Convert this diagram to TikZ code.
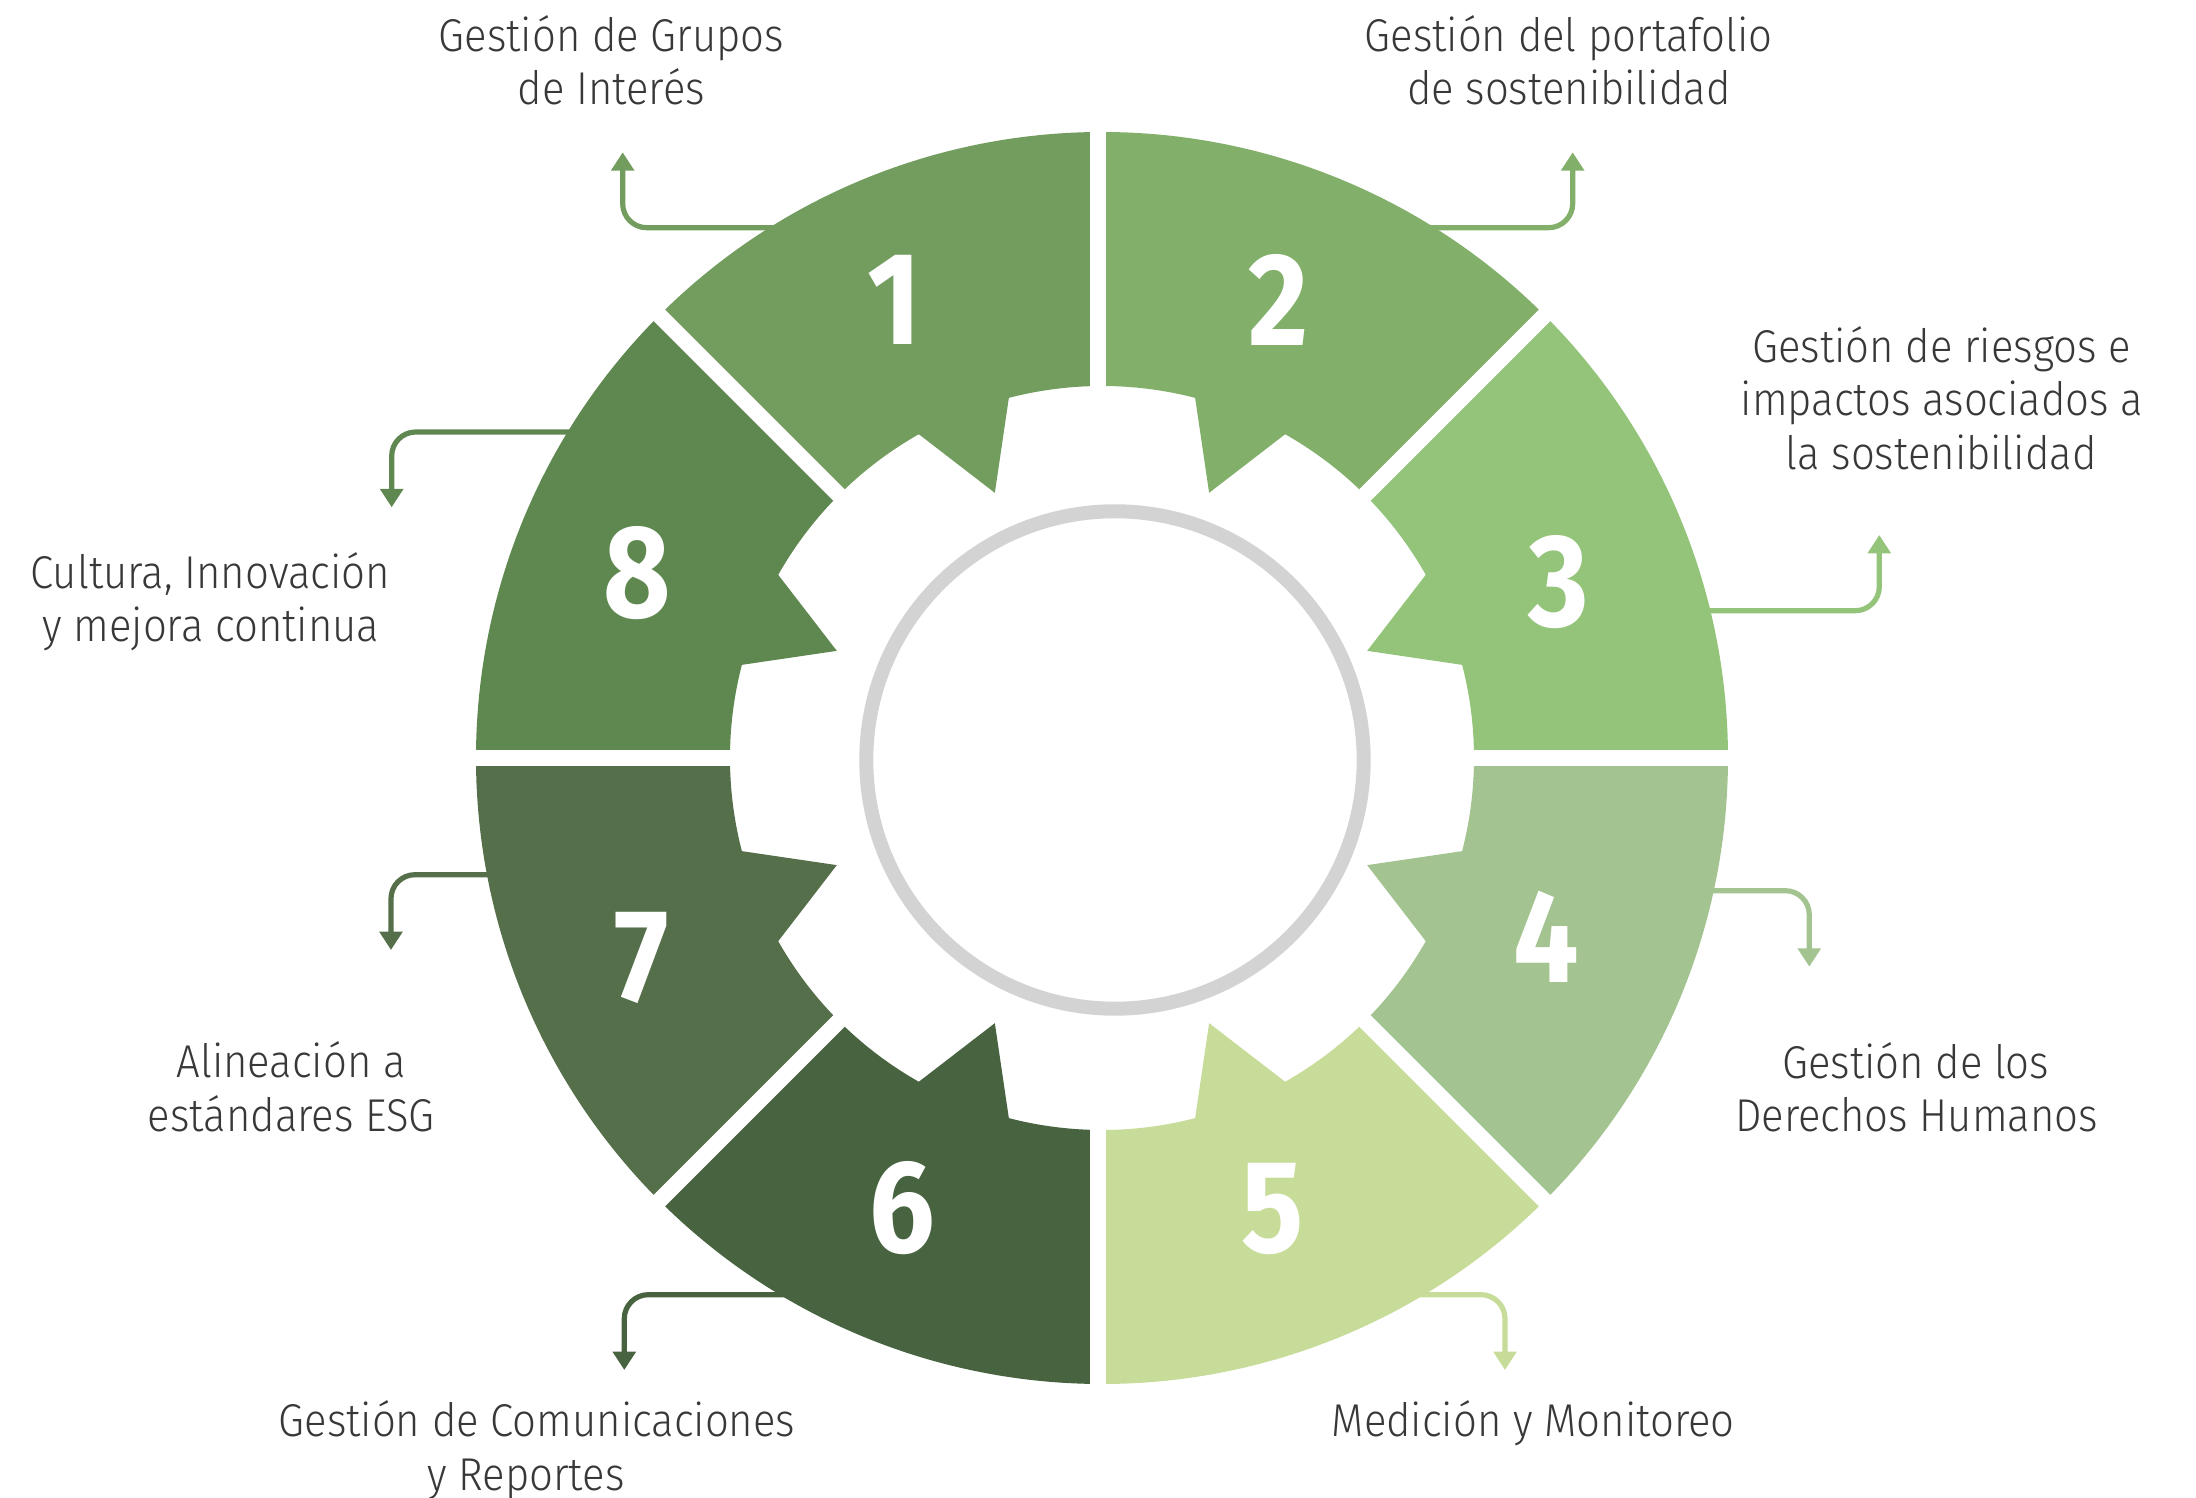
\documentclass[tikz,border=0pt]{standalone}
\usepackage{fontspec}
\setmainfont{Fira Sans}[UprightFont={* Light}, FakeStretch=0.91]
\newfontfamily\numfont{Fira Sans}[FakeStretch=0.88]
\usetikzlibrary{arrows.meta}
\definecolor{sOne}{HTML}{729D5E}
\definecolor{sTwo}{HTML}{82B06A}
\definecolor{sThree}{HTML}{93C47A}
\definecolor{sFour}{HTML}{A3C390}
\definecolor{sFive}{HTML}{C7DC98}
\definecolor{sSix}{HTML}{486340}
\definecolor{sSeven}{HTML}{546F49}
\definecolor{sEight}{HTML}{5F8850}
\definecolor{ringgrey}{HTML}{D3D3D3}
\definecolor{txtgrey}{HTML}{383838}
\def\Rin{372}
\def\Rout{626}
\def\Rtip{286}
\newcommand{\segpath}[3]{%
  \fill[#3] (#1:\Rin) -- (#1:\Rout)
    arc[start angle=#1, end angle={#1+45*(#2)}, radius=\Rout]
    -- ({#1+45*(#2)}:\Rin)
    arc[start angle={#1+45*(#2)}, end angle={#1+29.5*(#2)}, radius=\Rin]
    -- ({#1+22*(#2)}:\Rtip)
    -- ({#1+14.5*(#2)}:\Rin)
    arc[start angle={#1+14.5*(#2)}, end angle=#1, radius=\Rin] -- cycle;}
\begin{document}
\begin{tikzpicture}[x=0.5pt,y=0.5pt,
  conn/.style={line width=2.6pt, rounded corners=12pt, -{Triangle[length=9.2pt,width=11.2pt]}},
  num/.style={text=white, font=\numfont\bfseries\fontsize{66}{66}\selectfont, inner sep=0pt, anchor=center},
  lbl/.style={text=txtgrey, font=\fontsize{23}{27}\selectfont, inner sep=0pt, anchor=base},
  gap/.style={white, line width=8pt}]
\useasboundingbox (-1102,-740) rectangle (1094,758);
% connector end points
\coordinate (s1) at (-280.7,530.3);  \coordinate (e1) at (-479.3,605.7);
\coordinate (s2) at (280.7,530.3);   \coordinate (e2) at (470.7,605.7);
\coordinate (s3) at (581.6,147.3);   \coordinate (e3) at (777.3,223);
\coordinate (s4) at (585.1,-132.7);  \coordinate (e4) at (707.3,-208.7);
\coordinate (s5) at (268.2,-536.7);  \coordinate (e5) at (403,-612);
\coordinate (s6) at (-268.2,-536.7); \coordinate (e6) at (-477.7,-612);
\coordinate (s7) at (-588.5,-116.7); \coordinate (e7) at (-711,-192);
\coordinate (s8) at (-503.7,326);    \coordinate (e8) at (-710.3,250.7);
\draw[conn, sOne] (s1) -| (e1);
\draw[conn, sTwo] (s2) -| (e2);
\draw[conn, sThree] (s3) -| (e3);
\draw[conn, sFour] (s4) -| (e4);
\draw[conn, sFive] (s5) -| (e5);
\draw[conn, sSix] (s6) -| (e6);
\draw[conn, sSeven] (s7) -| (e7);
\draw[conn, sEight] (s8) -| (e8);
% segments
\segpath{0}{1}{sThree}
\segpath{90}{-1}{sTwo}
\segpath{90}{1}{sOne}
\segpath{180}{-1}{sEight}
\segpath{180}{1}{sSeven}
\segpath{270}{-1}{sSix}
\segpath{270}{1}{sFive}
\segpath{360}{-1}{sFour}
% gaps
\draw[gap] (-630,0) -- (630,0);
\draw[gap] (-4,-630) -- (-4,630);
\draw[gap] (45:630) -- (225:630);
\draw[gap] (135:630) -- (315:630);
% ring
\draw[ringgrey, line width=7pt] (13,-2) circle[radius=248.7];
% numbers
\node[num] (n1) at (-208,457.7) {1};
\node[num] (n2) at (176.5,457.7) {2};
\node[num] (n3) at (457,176.3) {3};
\node[num] (n4) at (444,-179) {4};
\node[num] (n5) at (170.8,-450.8) {5};
\node[num] (n6) at (-199.7,-450.3) {6};
\node[num] (n7) at (-460,-200) {7};
\node[num] (n8) at (-465,185) {8};
% labels
\node[lbl] (t1a) at (-490.5,706.3) {Gestión de Grupos};
\node[lbl] (t1b) at (-490.7,653) {de Interés};
\node[lbl] (t2a) at (466.8,706.3) {Gestión del portafolio};
\node[lbl] (t2b) at (466.8,653) {de sostenibilidad};
\node[lbl] (t3a) at (839.7,395.3) {Gestión de riesgos e};
\node[lbl] (t3b) at (840,342) {impactos asociados a};
\node[lbl] (t3c) at (839.2,288.7) {la sostenibilidad};
\node[lbl] (t4a) at (813.8,-320.3) {Gestión de los};
\node[lbl] (t4b) at (814.7,-373.7) {Derechos Humanos};
\node[lbl] (t5) at (431.3,-678) {Medición y Monitoreo};
\node[lbl] (t6a) at (-565,-678) {Gestión de Comunicaciones};
\node[lbl] (t6b) at (-576,-732) {y Reportes};
\node[lbl] (t7a) at (-810.8,-319.3) {Alineación a};
\node[lbl] (t7b) at (-810.7,-373.7) {estándares ESG};
\node[lbl] (t8a) at (-891.7,169.7) {Cultura, Innovación};
\node[lbl] (t8b) at (-891.2,116.3) {y mejora continua};
\end{tikzpicture}
\end{document}
